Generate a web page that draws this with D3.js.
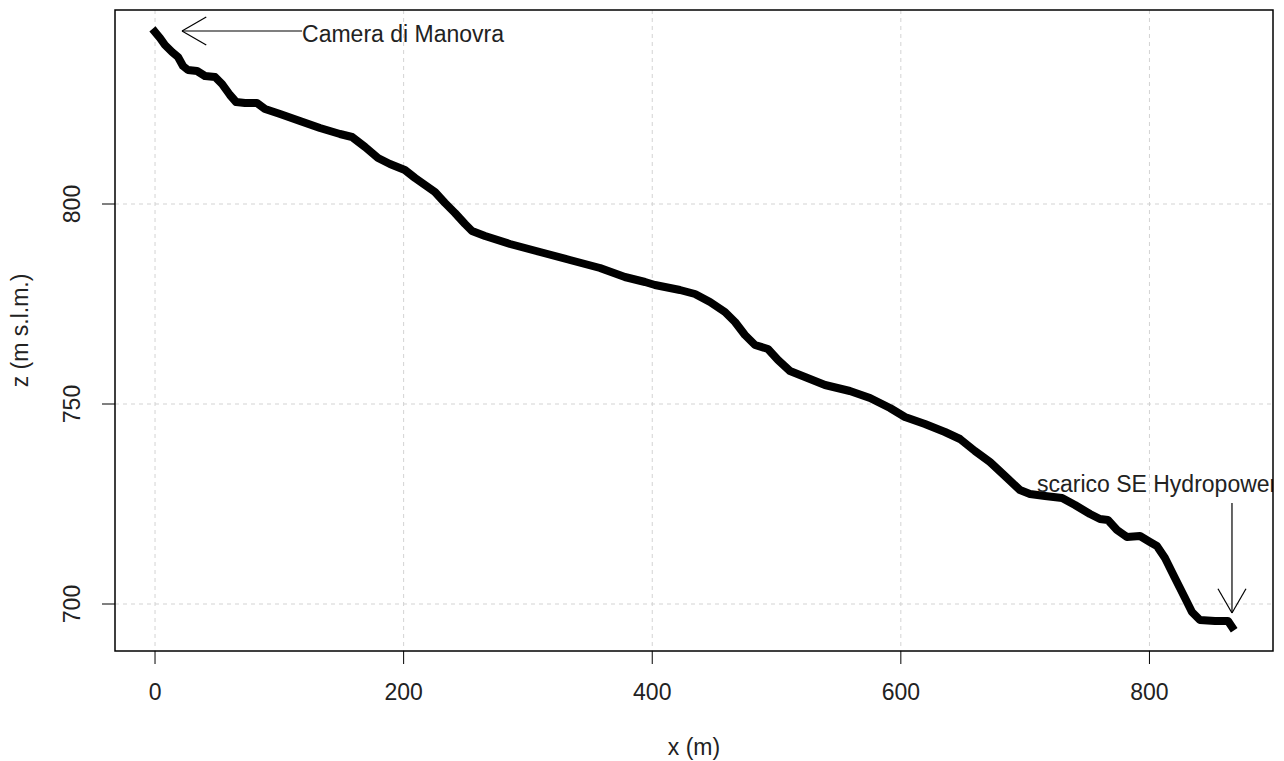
<!DOCTYPE html>
<html>
<head>
<meta charset="utf-8">
<script src="https://cdn.jsdelivr.net/npm/d3@7"></script>
<style>
  body { margin: 0; background: #fff; }
  svg { display: block; }
</style>
</head>
<body>
<script>
var w = 1284;
var h = 761;

// distance along the profile (m)
var dist = [0, 4, 8, 13.7, 18.5, 22.5, 26.5, 33.8, 40.2, 48.3, 53.9, 60.3, 65.2, 72.4, 82, 88.5,
  100.6, 116.6, 132.7, 148.8, 158.5, 169, 179.4, 189, 201, 209.2, 217.2, 225.2, 233.3, 241.3,
  249.4, 255, 265.5, 285.6, 309.7, 333.8, 358, 378, 394.2, 402.2, 422.3, 434.4, 446.5, 458.5,
  466.6, 474.6, 482.7, 493.1, 501.2, 510.8, 522.9, 539, 559, 575.2, 591.3, 603.3, 619.4, 635.5,
  647.6, 659.6, 671.7, 683.8, 695.8, 703.9, 716, 729.7, 740.1, 752.2, 760.2, 766.6, 773.9,
  781.9, 792.4, 800.4, 806, 812.5, 820.5, 828.6, 834.2, 840.6, 852.7, 863.2, 866.4];

// elevation (m s.l.m.)
var elev = [843, 841.5, 839.75, 838, 836.75, 834.5, 833.5, 833.25, 832, 831.75, 830, 827.25,
  825.5, 825.25, 825.25, 823.75, 822.5, 820.75, 819, 817.5, 816.75, 814.25, 811.5, 810, 808.5,
  806.5, 804.75, 803, 800.25, 797.75, 795, 793.25, 792, 790, 788, 786, 784, 781.75, 780.5,
  779.75, 778.5, 777.5, 775.5, 773, 770.5, 767.25, 764.75, 763.75, 761, 758.25, 756.75, 754.75,
  753.25, 751.5, 749, 746.75, 745, 743, 741.25, 738.25, 735.5, 732, 728.5, 727.5, 727, 726.5,
  724.75, 722.5, 721.25, 721, 718.5, 716.75, 717, 715.5, 714.5, 711.5, 706.5, 701.5, 698, 696,
  695.75, 695.75, 694.25];

var xTicks = [0, 200, 400, 600, 800];
var yTicks = [700, 750, 800];

// annotations: label, label position, arrow start, arrow tip
var noteLabels = ["Camera di Manovra", "scarico SE Hydropower"];
var noteText = [[118.3, 840.5], [709.5, 728]];
var noteFrom = [[118.3, 843.25], [866.4, 725.25]];
var noteTo = [[21.7, 843.25], [866.4, 697.75]];

var pLeft = 115, pRight = 1273, pTop = 10, pBottom = 651;

var x = d3.scaleLinear().domain([-32.2, 899.4]).range([pLeft, pRight]);
var y = d3.scaleLinear().domain([688.25, 848.5]).range([pBottom, pTop]);

var svg = d3.select("body")
            .append("svg")
              .attr("width", w)
              .attr("height", h)
              .style("font-family", "Liberation Sans, Arial, sans-serif");

svg.append("defs").append("clipPath").attr("id", "plotclip")
  .append("rect")
    .attr("x", pLeft).attr("y", pTop)
    .attr("width", pRight - pLeft).attr("height", pBottom - pTop);

// grid
svg.selectAll("line.gx")
  .data(xTicks)
  .enter()
  .append("line")
    .attr("x1", function(d) { return x(d); })
    .attr("x2", function(d) { return x(d); })
    .attr("y1", pTop)
    .attr("y2", pBottom)
    .attr("stroke", "#d3d3d3")
    .attr("stroke-dasharray", "4,4");

svg.selectAll("line.gy")
  .data(yTicks)
  .enter()
  .append("line")
    .attr("x1", pLeft)
    .attr("x2", pRight)
    .attr("y1", function(d) { return y(d); })
    .attr("y2", function(d) { return y(d); })
    .attr("stroke", "#d3d3d3")
    .attr("stroke-dasharray", "4,4");

// profile
var pts = dist.map(function(d, i) { return [d, elev[i]]; });
var line = d3.line()
  .x(function(d) { return x(d[0]); })
  .y(function(d) { return y(d[1]); });

svg.append("path")
  .datum(pts)
  .attr("d", line)
  .attr("fill", "none")
  .attr("stroke", "#000")
  .attr("stroke-width", 8)
  .attr("stroke-linejoin", "round")
  .attr("stroke-linecap", "square");

// annotations
var notes = svg.append("g").attr("clip-path", "url(#plotclip)");

noteLabels.forEach(function(lbl, i) {
  var x0 = x(noteFrom[i][0]), y0 = y(noteFrom[i][1]);
  var x1 = x(noteTo[i][0]), y1 = y(noteTo[i][1]);
  var ang = Math.atan2(y0 - y1, x0 - x1);
  var len = 28, spread = Math.PI / 6;

  notes.append("line")
    .attr("x1", x0).attr("y1", y0).attr("x2", x1).attr("y2", y1)
    .attr("stroke", "#000").attr("stroke-width", 1.2);

  [ang - spread, ang + spread].forEach(function(a) {
    notes.append("line")
      .attr("x1", x1).attr("y1", y1)
      .attr("x2", x1 + len * Math.cos(a))
      .attr("y2", y1 + len * Math.sin(a))
      .attr("stroke", "#000").attr("stroke-width", 1.2);
  });

  notes.append("text")
    .text(lbl)
    .attr("x", x(noteText[i][0]))
    .attr("y", y(noteText[i][1]))
    .attr("font-size", "23px")
    .attr("fill", "#222");
});

// frame
svg.append("rect")
  .attr("x", pLeft).attr("y", pTop)
  .attr("width", pRight - pLeft).attr("height", pBottom - pTop)
  .attr("fill", "none")
  .attr("stroke", "#000")
  .attr("stroke-width", 1.5);

// x axis
svg.selectAll("line.tx")
  .data(xTicks)
  .enter()
  .append("line")
    .attr("x1", function(d) { return x(d); })
    .attr("x2", function(d) { return x(d); })
    .attr("y1", pBottom)
    .attr("y2", pBottom + 13)
    .attr("stroke", "#000");

svg.selectAll("text.tx")
  .data(xTicks)
  .enter()
  .append("text")
    .text(function(d) { return d; })
    .attr("x", function(d) { return x(d); })
    .attr("y", 700)
    .attr("text-anchor", "middle")
    .attr("font-size", "23px")
    .attr("fill", "#222");

// y axis
svg.selectAll("line.ty")
  .data(yTicks)
  .enter()
  .append("line")
    .attr("x1", pLeft - 13)
    .attr("x2", pLeft)
    .attr("y1", function(d) { return y(d); })
    .attr("y2", function(d) { return y(d); })
    .attr("stroke", "#000");

svg.selectAll("text.ty")
  .data(yTicks)
  .enter()
  .append("text")
    .text(function(d) { return d; })
    .attr("transform", function(d) { return "translate(80," + y(d) + ") rotate(-90)"; })
    .attr("text-anchor", "middle")
    .attr("font-size", "23px")
    .attr("fill", "#222");

// axis titles
svg.append("text")
  .text("x (m)")
  .attr("x", (pLeft + pRight) / 2)
  .attr("y", 755)
  .attr("text-anchor", "middle")
  .attr("font-size", "23px")
  .attr("fill", "#222");

svg.append("text")
  .text("z (m s.l.m.)")
  .attr("transform", "translate(28," + (pTop + pBottom) / 2 + ") rotate(-90)")
  .attr("text-anchor", "middle")
  .attr("font-size", "23px")
  .attr("fill", "#222");
</script>
</body>
</html>
